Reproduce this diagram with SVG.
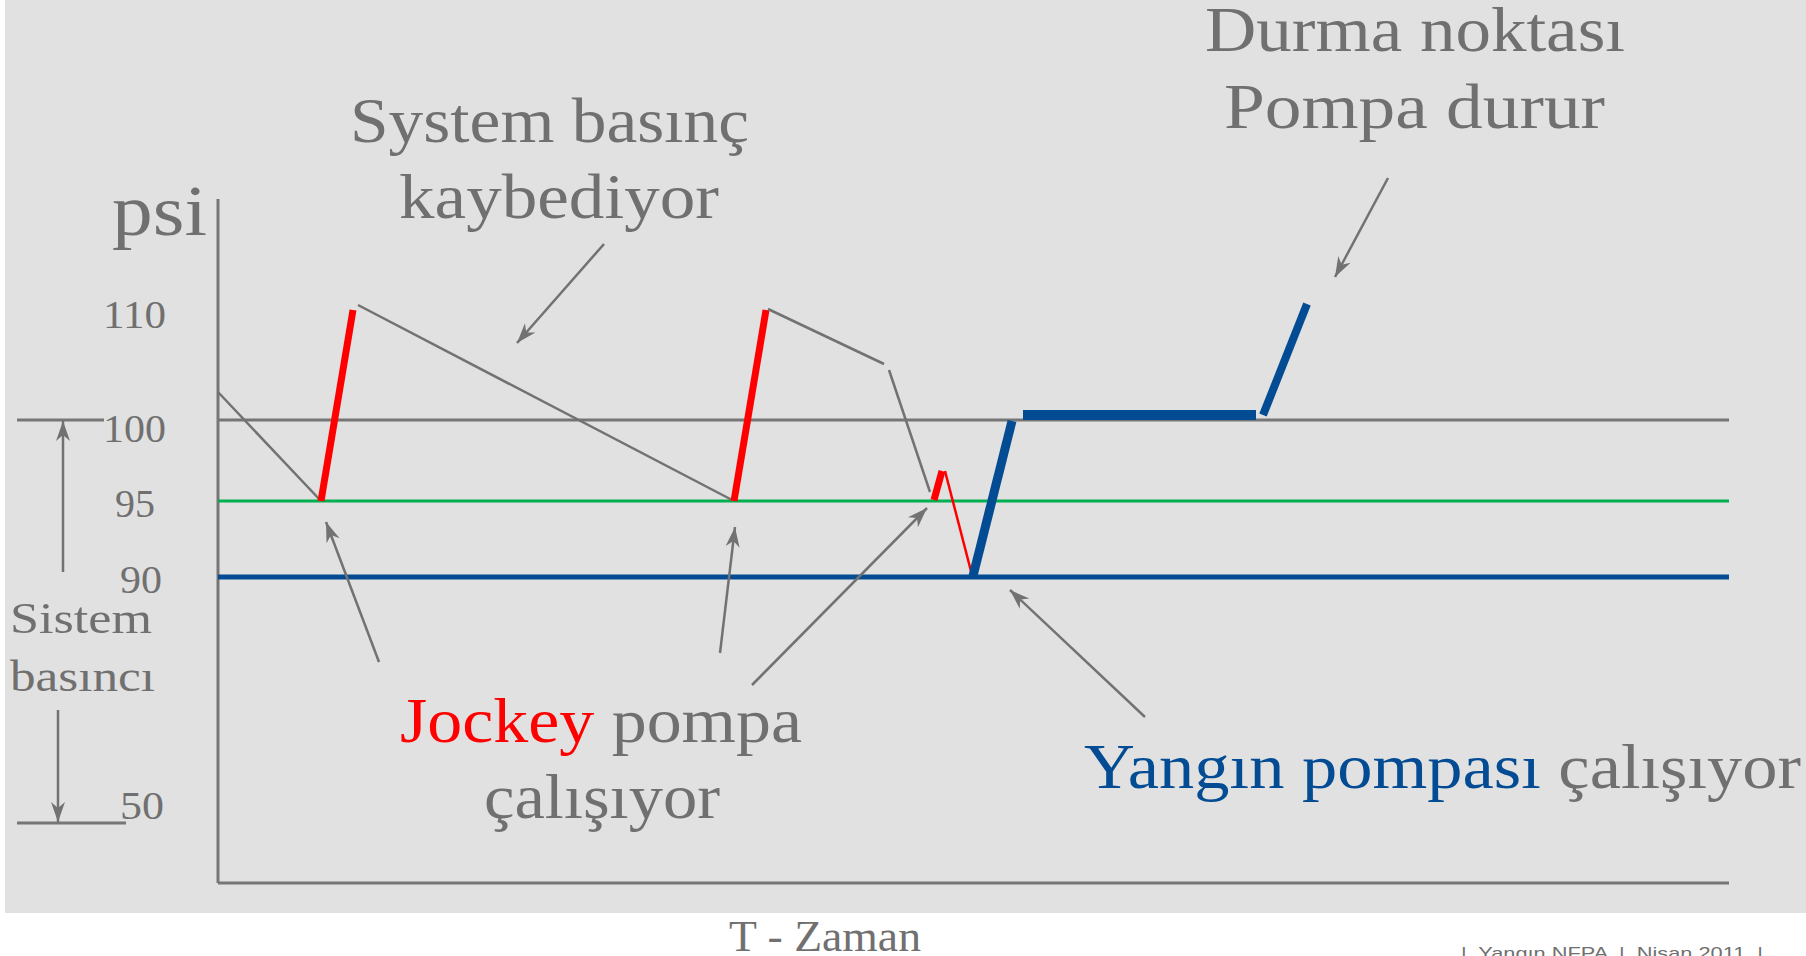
<svg xmlns="http://www.w3.org/2000/svg" width="1806" height="956" viewBox="0 0 1806 956">
<style>
.t{font-family:"Liberation Serif","Times New Roman",serif;fill:#707070}
.g{stroke:#727272;stroke-width:2.5;fill:none}
.ax{stroke:#767676;stroke-width:3;fill:none}
.ar{stroke:#727272;stroke-width:2.5;fill:none;marker-end:url(#ah)}
.red{stroke:#ff0000;fill:none}
.blue{stroke:#034c93;fill:none}
</style>
<defs>
<marker id="ah" viewBox="-22 -10 24 20" refX="0" refY="0" markerWidth="24" markerHeight="20" markerUnits="userSpaceOnUse" orient="auto">
<path d="M0,0 L-20,-7 L-14,0 L-20,7 Z" fill="#727272"/>
</marker>
</defs>
<rect x="0" y="0" width="1806" height="956" fill="#ffffff"/>
<rect x="5" y="0" width="1801" height="913" fill="#e1e1e1"/>

<g id="axes">
<line class="ax" x1="218" y1="199" x2="218" y2="883"/>
<line class="ax" x1="218" y1="883" x2="1729" y2="883"/>
<line class="ax" x1="17" y1="420" x2="104" y2="420"/>
<line class="ax" x1="218" y1="420" x2="1729" y2="420"/>
<line class="ax" x1="17" y1="823" x2="126" y2="823"/>
<line x1="218" y1="501" x2="1729" y2="501" stroke="#00b050" stroke-width="3"/>
<line x1="218" y1="577" x2="1729" y2="577" stroke="#034c93" stroke-width="5"/>
</g>

<g id="labels">
<text class="t" x="112" y="235" font-size="72" textLength="95" lengthAdjust="spacingAndGlyphs">psi</text>
<text class="t" x="103" y="328" font-size="40" textLength="63" lengthAdjust="spacingAndGlyphs">110</text>
<text class="t" x="103" y="442" font-size="40" textLength="63" lengthAdjust="spacingAndGlyphs">100</text>
<text class="t" x="115" y="517" font-size="40" textLength="40" lengthAdjust="spacingAndGlyphs">95</text>
<text class="t" x="120" y="593" font-size="40" textLength="42" lengthAdjust="spacingAndGlyphs">90</text>
<text class="t" x="120" y="819" font-size="40" textLength="44" lengthAdjust="spacingAndGlyphs">50</text>
<text class="t" x="10" y="633" font-size="45" textLength="142" lengthAdjust="spacingAndGlyphs">Sistem</text>
<text class="t" x="10" y="691" font-size="45" textLength="145" lengthAdjust="spacingAndGlyphs">basıncı</text>
<text class="t" x="729" y="951" font-size="44" textLength="192" lengthAdjust="spacingAndGlyphs">T - Zaman</text>
<text xml:space="preserve" x="1461" y="959" font-family="Liberation Sans, Arial, sans-serif" font-size="17" fill="#707070" textLength="302" lengthAdjust="spacingAndGlyphs">|  Yangın NFPA  |  Nisan 2011  |</text>
</g>

<g id="range-arrows">
<line class="ar" x1="63" y1="572" x2="63" y2="421"/>
<line class="ar" x1="58" y1="710" x2="58" y2="822"/>
</g>

<g id="pressure-curve">
<polyline class="g" points="218,392 321,501"/>
<line class="red" stroke-width="7" x1="321" y1="501" x2="353" y2="310"/>
<line class="g" x1="358" y1="305" x2="734" y2="501"/>
<line class="red" stroke-width="7" x1="734" y1="501" x2="766" y2="310"/>
<line class="g" x1="768" y1="309" x2="884" y2="364"/>
<line class="g" x1="889" y1="370" x2="930" y2="492"/>
<line class="red" stroke-width="7" x1="934" y1="500" x2="942" y2="471"/>
<line class="red" stroke-width="2.5" x1="945" y1="471" x2="972" y2="575"/>
<line class="blue" stroke-width="9" x1="973" y1="576" x2="1012" y2="421"/>
<line class="blue" stroke-width="10" x1="1023" y1="415" x2="1256" y2="415"/>
<line class="blue" stroke-width="8" x1="1263" y1="415" x2="1307" y2="304"/>
</g>

<g id="label-system">
<text class="t" x="350" y="142" font-size="64" textLength="399" lengthAdjust="spacingAndGlyphs">System basınç</text>
<text class="t" x="399" y="218" font-size="64" textLength="320" lengthAdjust="spacingAndGlyphs">kaybediyor</text>
<line class="ar" x1="604" y1="244" x2="517" y2="343"/>
</g>

<g id="label-durma">
<text class="t" x="1205" y="51" font-size="63" textLength="420" lengthAdjust="spacingAndGlyphs">Durma noktası</text>
<text class="t" x="1224" y="128" font-size="63" textLength="381" lengthAdjust="spacingAndGlyphs">Pompa durur</text>
<line class="ar" x1="1388" y1="178" x2="1335" y2="277"/>
</g>

<g id="label-jockey">
<text class="t" x="400" y="742" font-size="64" textLength="402" lengthAdjust="spacingAndGlyphs"><tspan fill="#ff0000">Jockey</tspan> pompa</text>
<text class="t" x="484" y="818" font-size="64" textLength="236" lengthAdjust="spacingAndGlyphs">çalışıyor</text>
<line class="ar" x1="379" y1="662" x2="326" y2="522"/>
<line class="ar" x1="720" y1="653" x2="735" y2="527"/>
<line class="ar" x1="752" y1="685" x2="927" y2="508"/>
</g>

<g id="label-yangin">
<text class="t" x="1084" y="788" font-size="63" textLength="717" lengthAdjust="spacingAndGlyphs"><tspan fill="#034c93">Yangın pompası</tspan> çalışıyor</text>
<line class="ar" x1="1145" y1="717" x2="1010" y2="590"/>
</g>
</svg>
